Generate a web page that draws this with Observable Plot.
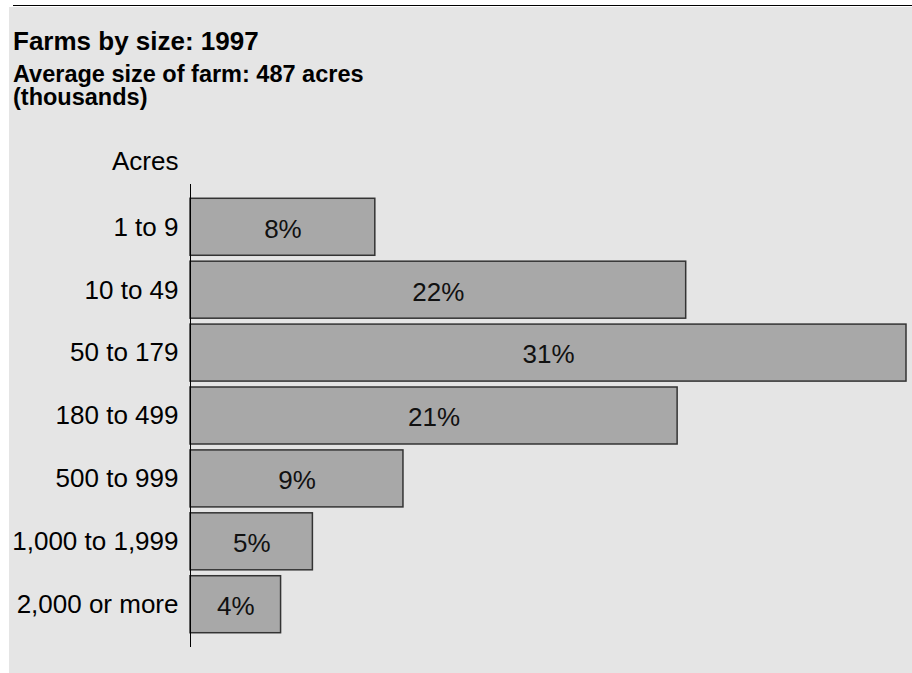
<!DOCTYPE html>
<html>
<head>
<meta charset="utf-8">
<script src="https://cdn.jsdelivr.net/npm/d3@7"></script>
<script src="https://cdn.jsdelivr.net/npm/@observablehq/plot@0.6"></script>
<style>
  html, body { margin: 0; padding: 0; background: #fff; }
  #page { position: relative; width: 912px; height: 673px; overflow: hidden;
          font-family: "Liberation Sans", Arial, Helvetica, sans-serif; color: #000; }
  #rule { position: absolute; left: 13px; top: 5px; width: 899px; height: 1px; background: #000; }
  #bg { position: absolute; left: 9px; top: 7px; width: 903px; height: 666px; background: #e5e5e5; }
  #title { position: absolute; left: 13px; top: 28px; font-size: 26px; line-height: 26px; font-weight: bold; white-space: nowrap; }
  .sub { position: absolute; left: 13px; font-size: 23.5px; line-height: 23px; height: 23px; font-weight: bold; white-space: nowrap; }
  #sub1 { top: 63px; }
  #sub2 { top: 86px; }
  #chart { position: absolute; left: 0; top: 130px; }
</style>
</head>
<body>
<div id="page">
  <div id="rule"></div>
  <div id="bg"></div>
  <div id="title">Farms by size: 1997</div>
  <div id="sub1" class="sub">Average size of farm: 487 acres</div>
  <div id="sub2" class="sub">(thousands)</div>
  <div id="chart"></div>
</div>
<script>
// Data
const sizes = ["1 to 9", "10 to 49", "50 to 179", "180 to 499", "500 to 999", "1,000 to 1,999", "2,000 or more"];
const farms = [151, 405, 585, 398, 174, 100, 74]; // thousands
const shares = ["8%", "22%", "31%", "21%", "9%", "5%", "4%"];
const axisTitle = "Acres";

const data = sizes.map((s, i) => ({size: s, farms: farms[i], share: shares[i]}));

const chart = Plot.plot({
  width: 912,
  height: 543,
  marginTop: 54,
  marginBottom: 26,
  marginLeft: 190,
  marginRight: 6,
  style: {background: "transparent", fontFamily: "'Liberation Sans', Arial, sans-serif", fontSize: "26px", color: "#000"},
  x: {axis: null, domain: [0, d3.max(farms)]},
  y: {domain: sizes, round: false, paddingInner: 0.094, paddingOuter: 0.227, tickSize: 0, tickPadding: 12, label: null},
  marks: [
    Plot.barX(data, {x: "farms", y: "size", fill: "#a8a8a8", stroke: "#333", strokeWidth: 1.5}),
    Plot.ruleX([0], {stroke: "#000", strokeWidth: 1}),
    Plot.text(data, {x: d => d.farms / 2, y: "size", text: "share", fontSize: 26, fill: "#111", dy: 2}),
    Plot.text([axisTitle], {frameAnchor: "top-left", textAnchor: "end", lineAnchor: "bottom", dx: -12, dy: -15, fontSize: 26, fill: "#000"})
  ]
});
document.getElementById("chart").appendChild(chart);
</script>
</body>
</html>
